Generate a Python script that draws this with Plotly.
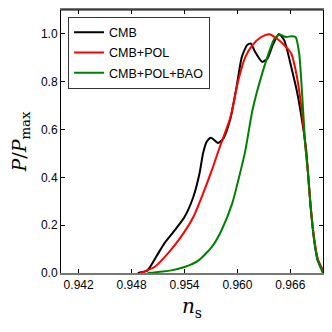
import plotly.graph_objects as go

# n_s posterior curves, P/P_max
ns_cmb = [0.9487, 0.9498, 0.9510, 0.9517, 0.9529, 0.9540, 0.9550, 0.9557, 0.9561, 0.9565,
          0.9570, 0.9578, 0.9584, 0.9592, 0.9599, 0.9605, 0.9611, 0.9615, 0.9620, 0.9628,
          0.9634, 0.9640, 0.9647, 0.9653, 0.9661, 0.9668, 0.9674, 0.9678, 0.9680, 0.9683,
          0.9687, 0.9691, 0.9697, 0.9699]
p_cmb = [0.0, 0.011, 0.081, 0.123, 0.179, 0.234, 0.318, 0.416, 0.50, 0.548,
         0.566, 0.544, 0.562, 0.645, 0.778, 0.904, 0.953, 0.960, 0.925, 0.883,
         0.897, 0.953, 1.0, 0.974, 0.862, 0.75, 0.62, 0.513, 0.416, 0.276,
         0.137, 0.053, 0.008, 0.0]

ns_pol = [0.9490, 0.9506, 0.9521, 0.9536, 0.9550, 0.9561, 0.9571, 0.9580, 0.9592, 0.9601,
          0.9609, 0.9617, 0.9626, 0.9636, 0.9645, 0.9655, 0.9661, 0.9666, 0.9672, 0.9676,
          0.9680, 0.9683, 0.9687, 0.9691, 0.9697, 0.9699]
p_pol = [0.0, 0.025, 0.081, 0.151, 0.234, 0.332, 0.43, 0.527, 0.65, 0.806,
         0.904, 0.953, 0.985, 0.999, 0.98, 0.946, 0.918, 0.848, 0.709, 0.569,
         0.42, 0.28, 0.145, 0.06, 0.012, 0.0]

ns_bao = [0.9498, 0.9525, 0.9540, 0.9556, 0.9571, 0.9582, 0.9594, 0.9601, 0.9609, 0.9617,
          0.9628, 0.9638, 0.9642, 0.9648, 0.9655, 0.9661, 0.9666, 0.9670, 0.9674, 0.9677,
          0.9680, 0.9683, 0.9687, 0.9691, 0.9696, 0.9697]
p_bao = [0.0, 0.011, 0.025, 0.053, 0.109, 0.179, 0.29, 0.388, 0.513, 0.681,
         0.834, 0.946, 0.98, 0.998, 0.987, 0.99, 0.987, 0.918, 0.709, 0.53,
         0.42, 0.276, 0.137, 0.053, 0.008, 0.0]

series = [('CMB', ns_cmb, p_cmb, 'black'),
          ('CMB+POL', ns_pol, p_pol, 'red'),
          ('CMB+POL+BAO', ns_bao, p_bao, 'green')]

x_ticks = [0.942, 0.948, 0.954, 0.960, 0.966]

fig = go.Figure()
for name, xs, ys, col in series:
    fig.add_trace(go.Scatter(x=xs, y=ys, name=name, mode='lines', legendgroup=name,
                             line=dict(color=col, width=2, shape='spline', smoothing=0.6)))

# page body has an 8px margin, so the figure is 324px and sits at (8, 8)
fig.update_layout(
    width=324, height=324,
    margin=dict(l=53, r=9, t=2, b=59),
    paper_bgcolor='white', plot_bgcolor='white',
    font=dict(family='Liberation Sans, Arial', size=12, color='black'),
    legend=dict(x=0.027, y=0.975, xanchor='left', yanchor='top',
                bordercolor='#333', borderwidth=1, bgcolor='white',
                font=dict(size=12.5), tracegroupgap=1, itemwidth=30),
)
fig.update_xaxes(range=[0.940, 0.9697], tickvals=x_ticks, tickformat='.3f',
                 ticks='inside', ticklen=4, tickcolor='black', automargin=False,
                 showline=True, linecolor='#777', linewidth=2, mirror='allticks',
                 showgrid=False, zeroline=False,
                 title=dict(text='<i>n</i><sub>s</sub>', standoff=8,
                            font=dict(family='DejaVu Serif', size=20)))
fig.update_yaxes(range=[0, 1.1], tickvals=[0, 0.2, 0.4, 0.6, 0.8, 1.0], tickformat='.1f',
                 ticks='inside', ticklen=4, tickcolor='black', automargin=False,
                 showline=True, linecolor='black', linewidth=1, mirror='allticks',
                 showgrid=False, zeroline=False,
                 title=dict(text='<i>P</i>/<i>P</i><sub>max</sub>', standoff=12,
                            font=dict(family='DejaVu Serif', size=19)))
# top spine in black (bottom one looks grey in the original)
fig.add_shape(type='line', xref='paper', yref='paper', x0=0, x1=1, y0=1, y1=1,
              line=dict(color='black', width=1))

fig.write_html("out.html")
